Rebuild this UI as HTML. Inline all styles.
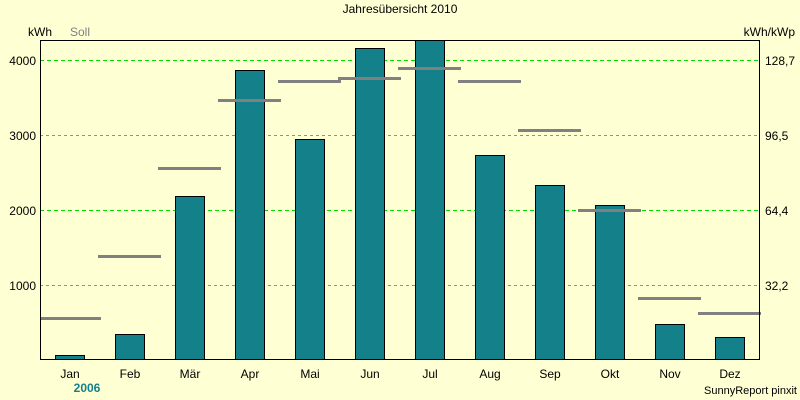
<!DOCTYPE html>
<html><head><meta charset="utf-8"><style>
body{margin:0;background:#ffffd4;}
svg{display:block;font-family:"Liberation Sans",sans-serif;font-size:12px;}
</style></head><body>
<svg width="800" height="400" xmlns="http://www.w3.org/2000/svg">
<rect width="800" height="400" fill="#ffffd4"/>
<text x="400" y="13" text-anchor="middle">Jahresübersicht 2010</text>
<text x="28" y="36">kWh</text>
<text x="70" y="36" fill="#808080">Soll</text>
<text x="795" y="36" text-anchor="end">kWh/kWp</text>
<g stroke="#00e000" stroke-dasharray="4,3" stroke-width="1">
<line x1="40" x2="760" y1="60.5" y2="60.5"/>
<line x1="40" x2="760" y1="210.5" y2="210.5"/>
</g>
<g stroke="#909090" stroke-dasharray="3,3" stroke-width="1">
<line x1="40" x2="760" y1="135.5" y2="135.5"/>
<line x1="40" x2="760" y1="285.5" y2="285.5"/>
</g>
<g text-anchor="end">
<text x="36" y="65">4000</text><text x="36" y="140">3000</text><text x="36" y="215">2000</text><text x="36" y="290">1000</text>
</g>
<g>
<text x="765" y="65">128,7</text><text x="765" y="140">96,5</text><text x="765" y="215">64,4</text><text x="765" y="290">32,2</text>
</g>
<g fill="#13808a" stroke="#000" stroke-width="1">
<rect x="55.5" y="355.5" width="29" height="4"/>
<rect x="115.5" y="334.5" width="29" height="25"/>
<rect x="175.5" y="196.5" width="29" height="163"/>
<rect x="235.5" y="70.5" width="29" height="289"/>
<rect x="295.5" y="139.5" width="29" height="220"/>
<rect x="355.5" y="48.5" width="29" height="311"/>
<rect x="415.5" y="40.5" width="29" height="319"/>
<rect x="475.5" y="155.5" width="29" height="204"/>
<rect x="535.5" y="185.5" width="29" height="174"/>
<rect x="595.5" y="205.5" width="29" height="154"/>
<rect x="655.5" y="324.5" width="29" height="35"/>
<rect x="715.5" y="337.5" width="29" height="22"/>
</g>
<g stroke="#808080" stroke-width="3">
<line x1="40" x2="101" y1="318.5" y2="318.5"/>
<line x1="98" x2="161" y1="256.5" y2="256.5"/>
<line x1="158" x2="221" y1="168.5" y2="168.5"/>
<line x1="218" x2="281" y1="100.5" y2="100.5"/>
<line x1="278" x2="341" y1="81.5" y2="81.5"/>
<line x1="338" x2="401" y1="78.5" y2="78.5"/>
<line x1="398" x2="461" y1="68.5" y2="68.5"/>
<line x1="458" x2="521" y1="81.5" y2="81.5"/>
<line x1="518" x2="581" y1="130.5" y2="130.5"/>
<line x1="578" x2="641" y1="210.5" y2="210.5"/>
<line x1="638" x2="701" y1="298.5" y2="298.5"/>
<line x1="698" x2="761" y1="313.5" y2="313.5"/>
</g>
<rect x="40.5" y="40.5" width="719" height="319" fill="none" stroke="#000" stroke-width="1"/>
<g text-anchor="middle">
<text x="70" y="378">Jan</text><text x="130" y="378">Feb</text><text x="190" y="378">Mär</text><text x="250" y="378">Apr</text><text x="310" y="378">Mai</text><text x="370" y="378">Jun</text><text x="430" y="378">Jul</text><text x="490" y="378">Aug</text><text x="550" y="378">Sep</text><text x="610" y="378">Okt</text><text x="670" y="378">Nov</text><text x="730" y="378">Dez</text>
</g>
<text x="87" y="392" text-anchor="middle" fill="#13808a" font-weight="bold">2006</text>
<text x="797" y="394" text-anchor="end" font-size="11">SunnyReport pinxit</text>
</svg>
</body></html>
